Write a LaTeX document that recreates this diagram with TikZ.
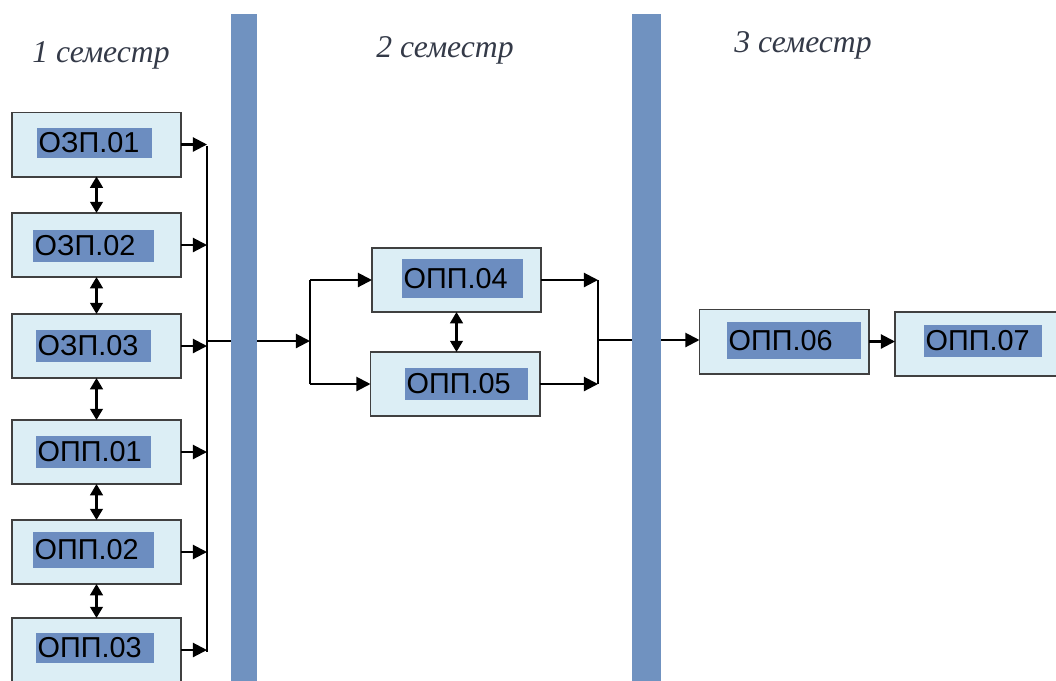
\documentclass[tikz,border=0pt]{standalone}
\usepackage{fontspec}
\setmainfont{Liberation Serif}
\newfontfamily\labelfont{Liberation Sans}
\usetikzlibrary{arrows.meta}
\definecolor{barblue}{RGB}{112,146,192}
\definecolor{tagblue}{RGB}{108,141,192}
\definecolor{boxfill}{RGB}{220,238,245}
\definecolor{boxline}{RGB}{64,64,64}
\definecolor{titlegray}{RGB}{52,58,72}

\begin{document}
\begin{tikzpicture}[x=0.025cm, y=-0.025cm, >={Triangle[length=10pt,width=10pt]},
  course/.style={draw=boxline, line width=1.4pt, fill=boxfill,
    minimum width=4.225cm, minimum height=1.6cm, inner sep=0pt, outer sep=0pt},
  tag/.style={fill=tagblue, font=\labelfont\fontsize{20.5}{20.5}\selectfont,
    anchor=west, inner xsep=1pt, text width=2.8cm, align=left,
    minimum height=0.8cm, inner ysep=0pt},
  term/.style={font=\itshape\fontsize{22.5}{22.5}\selectfont, text=titlegray},
  bar/.style={fill=barblue, draw=none},
  arr/.style={->, line width=1.5pt},
  darr/.style={{Triangle[length=8pt,width=9pt]}-{Triangle[length=8pt,width=9pt]}, line width=1.6pt},
  bus/.style={line width=0.9pt}]
  \useasboundingbox (0,0) rectangle (1056,680);
  % semester bars
  \fill[bar] (231,14) rectangle (257,700);
  \fill[bar] (632,14) rectangle (661,700);
  \coordinate (bar1w) at (231,341);
  \coordinate (bar1e) at (257,341);
  \coordinate (bar2w) at (632,340);
  \coordinate (bar2e) at (661,340);
  % titles
  \node[term] (t1) at (101,55) {1 семестр};
  \node[term] (t2) at (445,50) {2 семестр};
  \node[term] (t3) at (803,45) {3 семестр};
  % 1 semester
  \node[course] (ozp1) at (96.5,144.5) {};
  \node[course] (ozp2) at (96.5,245) {};
  \node[course] (ozp3) at (96.5,346) {};
  \node[course] (opp1) at (96.5,452) {};
  \node[course] (opp2) at (96.5,552) {};
  \node[course] (opp3) at (96.5,650) {};
  \node[tag, minimum height=0.75cm] (ozp1t) at (37,142.5) {ОЗП.01};
  \node[tag, text width=2.95cm] (ozp2t) at (33,245.5) {ОЗП.02};
  \node[tag] (ozp3t) at (36,346) {ОЗП.03};
  \node[tag] (opp1t) at (36,452) {ОПП.01};
  \node[tag, text width=2.95cm, minimum height=0.9cm] (opp2t) at (33,550) {ОПП.02};
  \node[tag, text width=2.88cm, minimum height=0.75cm] (opp3t) at (36,648) {ОПП.03};
  \draw[darr] (ozp1.south) -- (ozp2.north);
  \draw[darr] (ozp2.south) -- (ozp3.north);
  \draw[darr] (ozp3.south) -- (opp1.north);
  \draw[darr] (opp1.south) -- (opp2.north);
  \draw[darr] (opp2.south) -- (opp3.north);
  \coordinate (lbus) at (207,146);
  \coordinate (lbusend) at (207,652);
  \coordinate (lmid) at (207,341);
  \draw[bus] (lbus) -- (lbusend);
  \foreach \c in {ozp1,ozp2,ozp3,opp1,opp2,opp3}
    \draw[arr] (\c.east) -- (\c.east -| lbus);
  \draw[line width=1.5pt] (lmid) -- (bar1w);
  % 2 semester
  \node[course] (opp4) at (456.5,280) {};
  \node[course] (opp5) at (455,384) {};
  \node[tag, text width=2.95cm, minimum height=0.97cm] (opp4t) at (402,278.5) {ОПП.04};
  \node[tag, text width=3.0cm] (opp5t) at (405,383.5) {ОПП.05};
  \coordinate (mbus) at (310,341);
  \coordinate (mbustop) at (310,280);
  \coordinate (mbusbot) at (310,384);
  \draw[arr] (bar1e) -- (mbus);
  \draw[line width=1.5pt] (mbusbot) -- (mbustop);
  \draw[arr] (mbustop) -- (opp4.west);
  \draw[arr] (mbusbot) -- (opp5.west);
  \draw[darr] (opp4.south) -- (opp4.south |- opp5.north);
  \coordinate (rbustop) at (598,280);
  \coordinate (rbusbot) at (598,384);
  \coordinate (rmid) at (598,340);
  \draw[arr] (opp4.east) -- (rbustop);
  \draw[arr] (opp5.east) -- (rbusbot);
  \draw[bus] (rbustop) -- (rbusbot);
  \draw[line width=1.5pt] (rmid) -- (bar2w);
  % 3 semester
  \node[course] (opp6) at (784,341.5) {};
  \node[course] (opp7) at (979.5,344) {};
  \node[tag, text width=3.28cm, minimum height=0.92cm] (opp6t) at (727,340.5) {ОПП.06};
  \node[tag, text width=2.88cm] (opp7t) at (924,341) {ОПП.07};
  \draw[arr] (bar2e) -- (bar2e -| opp6.west);
  \draw[arr] (opp6.east) -- (opp6.east -| opp7.west);
\end{tikzpicture}
\end{document}
